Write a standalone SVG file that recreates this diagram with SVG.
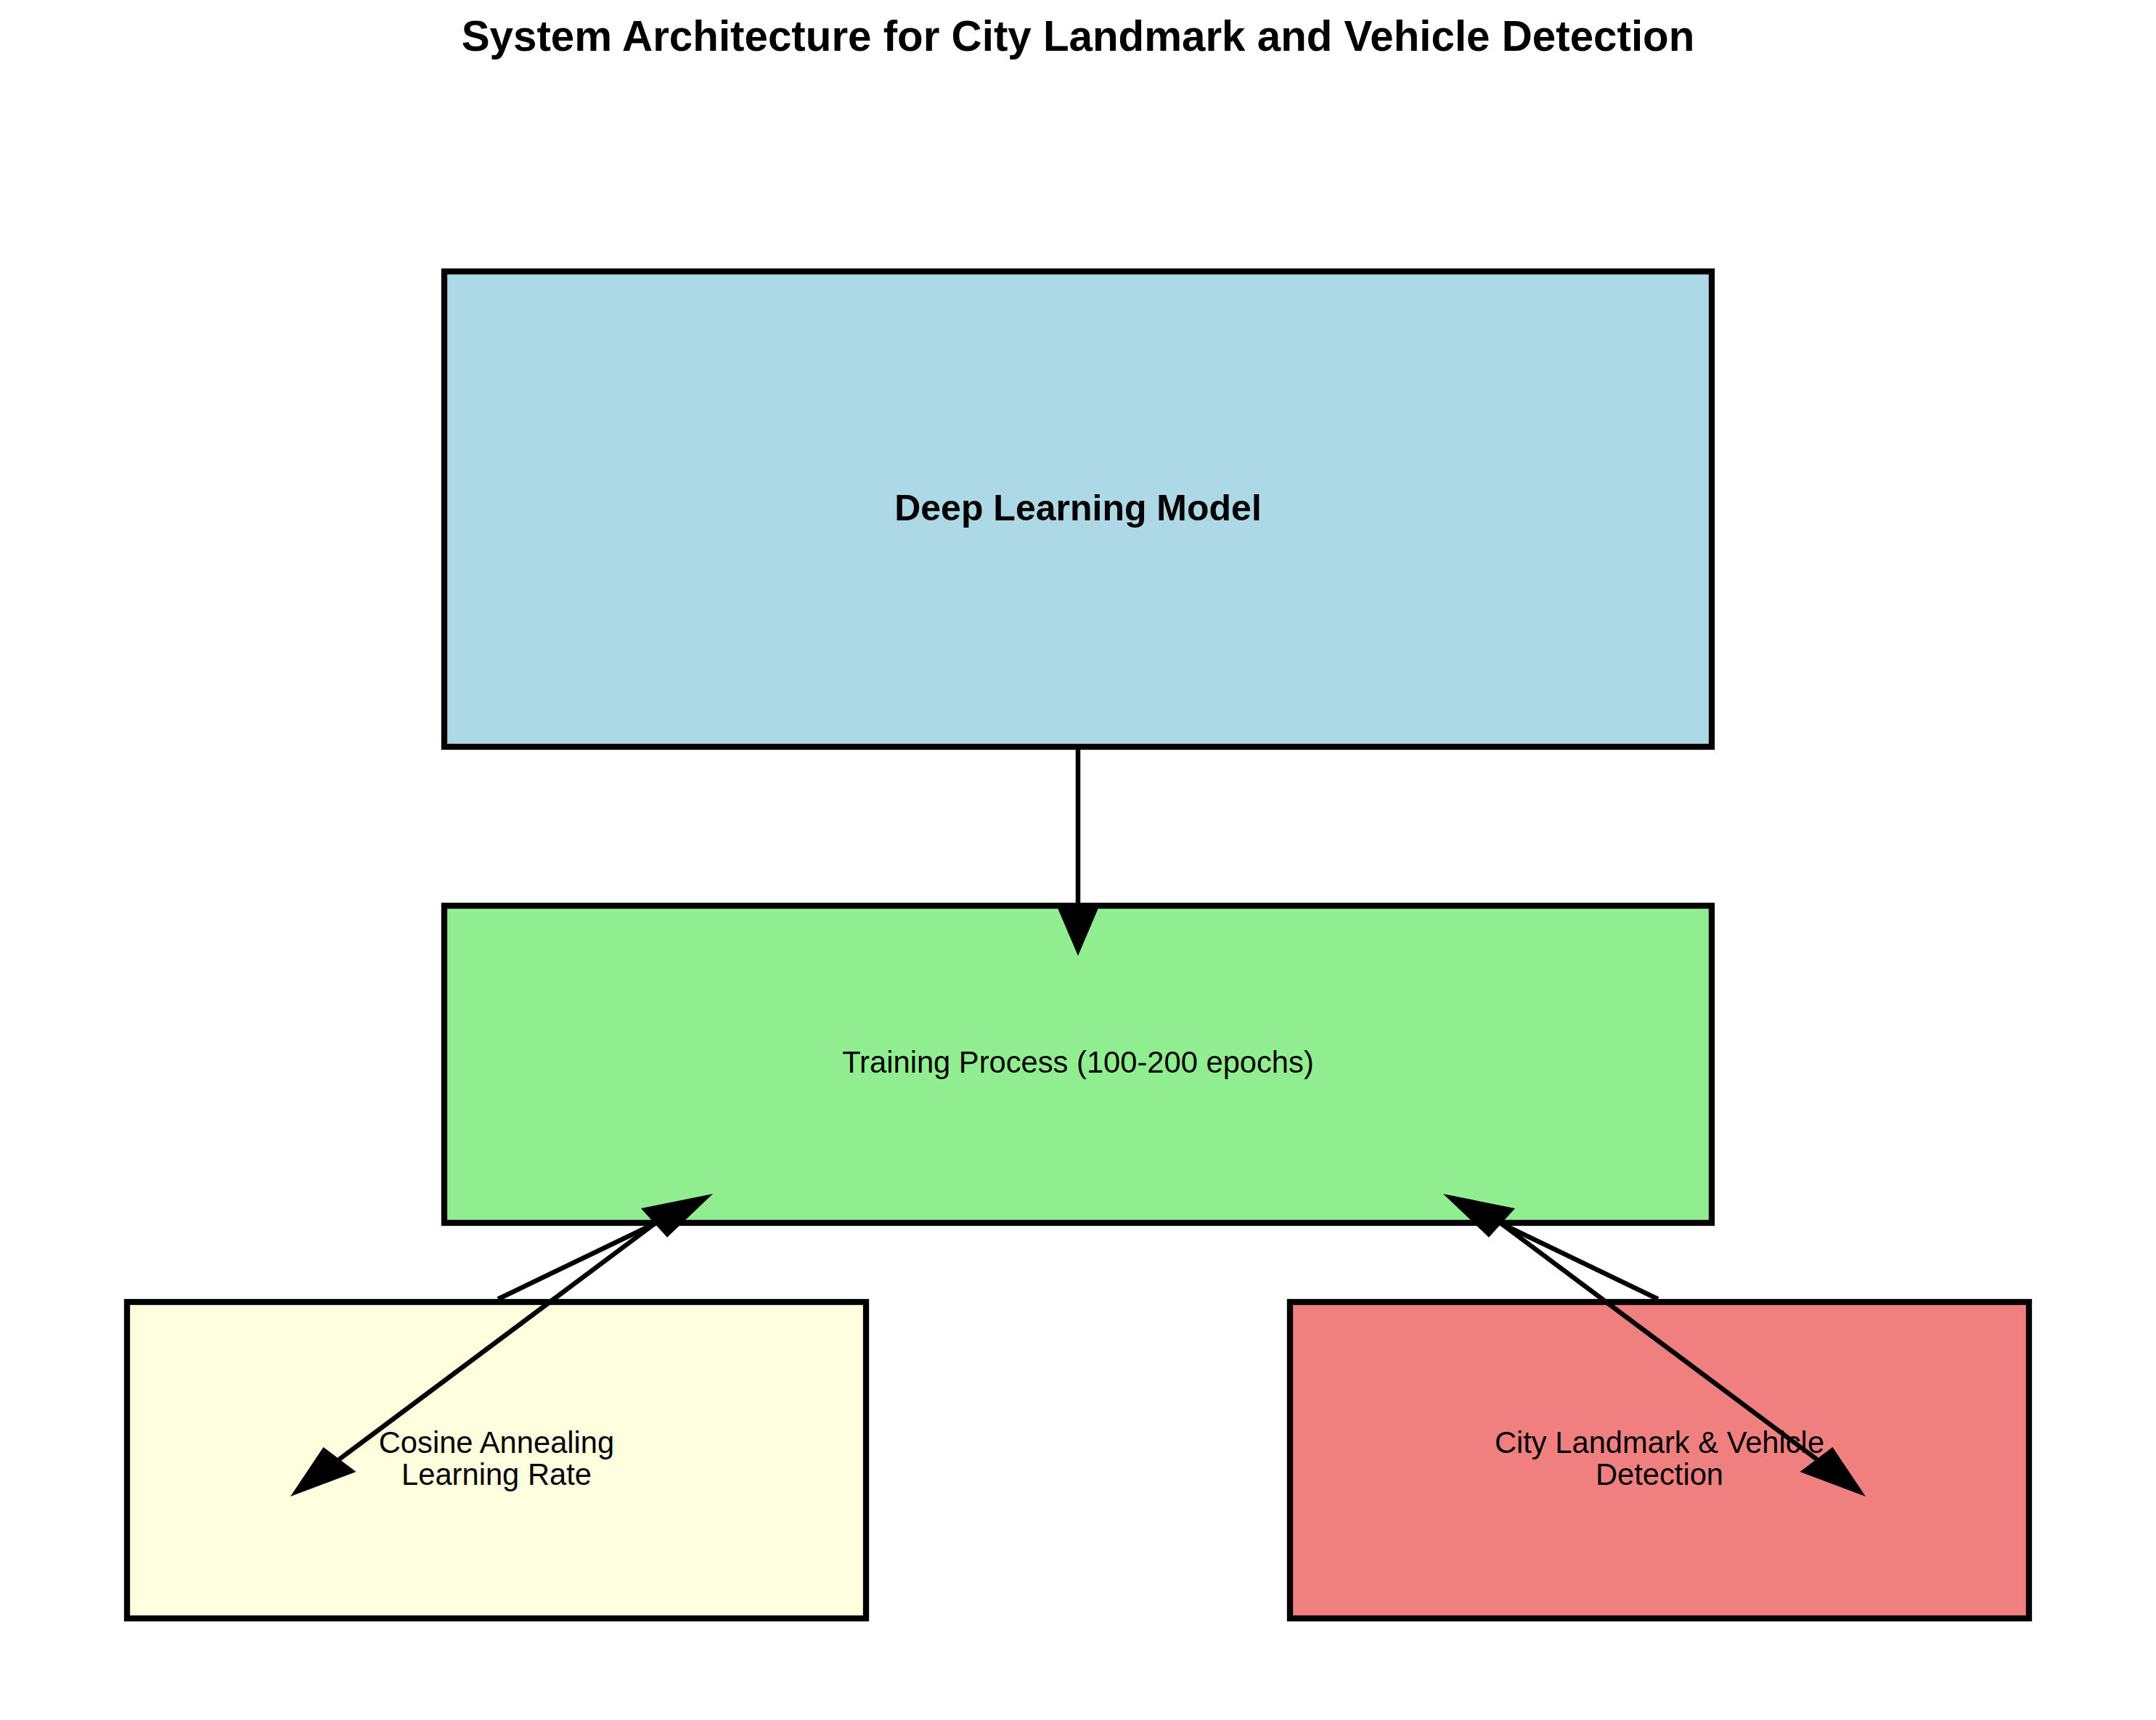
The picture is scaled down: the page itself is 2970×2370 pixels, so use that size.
<svg xmlns="http://www.w3.org/2000/svg" width="2970" height="2370" viewBox="0 0 2970 2370">
<style>
.box{stroke:#000;stroke-width:8.3}
.t{font-family:"Liberation Sans",Arial,sans-serif;fill:#000;text-anchor:middle}
.title{font-size:58.3px;font-weight:bold}
.bold{font-size:50px;font-weight:bold}
.reg{font-size:41.7px}
.conn line{stroke:#000;stroke-width:6.5;fill:none}
.conn polygon{fill:#000;stroke:none}
</style>
<rect x="0" y="0" width="2970" height="2370" fill="#fff"/>
<text class="t title" x="1485" y="70">System Architecture for City Landmark and Vehicle Detection</text>
<g id="node-model">
<rect class="box" x="612" y="374" width="1746" height="655" fill="#ADD8E6"/>
<text class="t bold" x="1485" y="717">Deep Learning Model</text>
</g>
<g id="node-training">
<rect class="box" x="612" y="1248" width="1746" height="437" fill="#90EE90"/>
<text class="t reg" x="1485" y="1478">Training Process (100-200 epochs)</text>
</g>
<g id="node-cosine">
<rect class="box" x="175" y="1794" width="1018" height="436" fill="#FFFFE0"/>
<text class="t reg" x="684" y="2002">Cosine Annealing</text>
<text class="t reg" x="684" y="2046">Learning Rate</text>
</g>
<g id="node-detection">
<rect class="box" x="1777" y="1794" width="1018" height="436" fill="#F08080"/>
<text class="t reg" x="2286" y="2002">City Landmark &amp; Vehicle</text>
<text class="t reg" x="2286" y="2046">Detection</text>
</g>
<g id="connectors" class="conn">
<line x1="1485" y1="1033" x2="1485" y2="1252"/>
<polygon points="1456,1249 1514,1249 1485,1317"/>
<line x1="686" y1="1790" x2="902" y2="1686"/>
<polygon points="883,1665 919,1705 982,1645"/>
<line x1="902" y1="1686" x2="467" y2="2011"/>
<polygon points="445.5,1994 490.5,2028 400,2062"/>
<line x1="2284" y1="1790" x2="2068" y2="1686"/>
<polygon points="2087,1665 2051,1705 1988,1645"/>
<line x1="2068" y1="1686" x2="2503" y2="2011"/>
<polygon points="2524.5,1994 2479.5,2028 2570,2062"/>
</g>
</svg>
